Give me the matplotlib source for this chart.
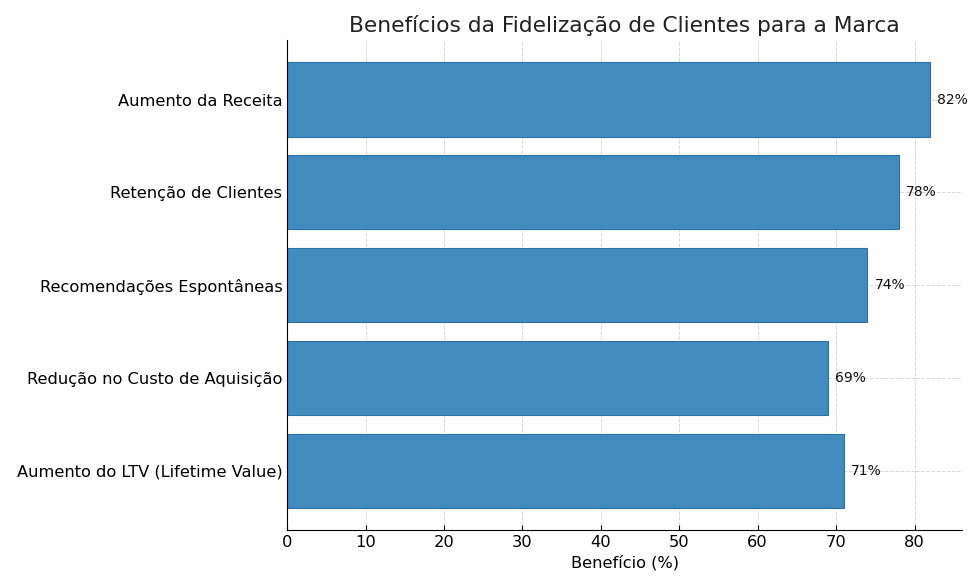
import matplotlib
matplotlib.use('Agg')
import matplotlib.pyplot as plt

categorias = ['Aumento do LTV (Lifetime Value)', 'Redução no Custo de Aquisição',
              'Recomendações Espontâneas', 'Retenção de Clientes', 'Aumento da Receita']
valores = [71, 69, 74, 78, 82]

fig = plt.figure(figsize=(9.8, 5.88), dpi=100)
ax = fig.add_axes([0.293, 0.0986, 0.689, 0.833])

ax.barh(categorias, valores, height=0.8, color='#428bbf', edgecolor='#2b6fa3', linewidth=0.8, zorder=2)
for i, v in enumerate(valores):
    ax.text(v + 0.9, i, f'{v}%', va='center', ha='left', fontsize=10, color='#111111', zorder=3)

ax.set_xlim(0, max(valores) * 1.05)
ax.set_title('Benefícios da Fidelização de Clientes para a Marca', fontsize=15.7, color='#222222')
ax.set_xlabel('Benefício (%)', fontsize=11.7)
ax.tick_params(axis='both', direction='in', labelsize=11.7)
ax.grid(True, linestyle='--', color='#cccccc', alpha=0.8, linewidth=0.7, zorder=0)
ax.set_axisbelow(True)
ax.spines['top'].set_visible(False)
ax.spines['right'].set_visible(False)

fig.savefig('out.png', dpi=100)
